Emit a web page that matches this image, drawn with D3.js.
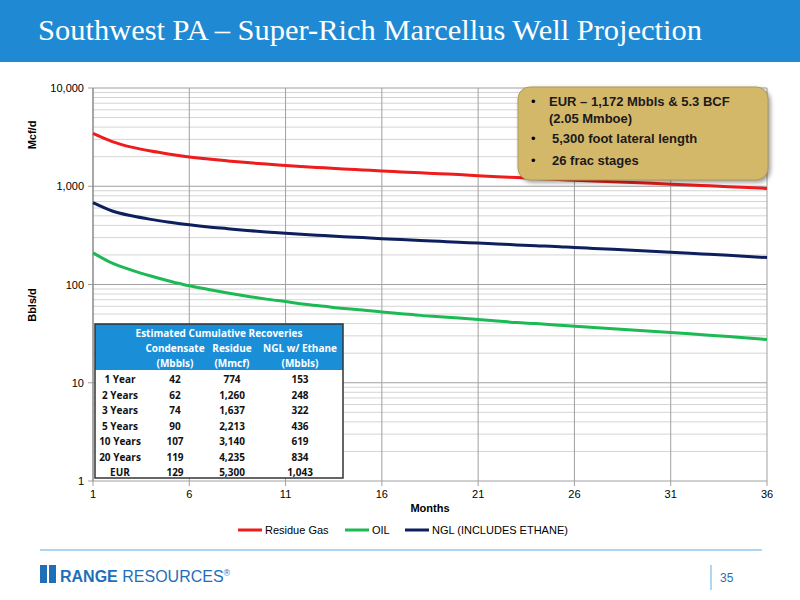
<!DOCTYPE html>
<html><head><meta charset="utf-8">
<script src="https://cdn.jsdelivr.net/npm/d3@7"></script>
<style>body{margin:0;background:#fff}svg{display:block}</style></head>
<body><svg id="c" width="800" height="600"></svg>
<script>
const months = d3.range(1,37);
const gas = [3450,2850,2500,2280,2120,1990,1890,1810,1740,1680,1630,1580,1540,1500,1465,1430,1400,1370,1340,1315,1280,1250,1225,1200,1175,1150,1130,1110,1090,1070,1050,1030,1010,990,970,950];
const ngl = [680,560,500,460,430,405,385,370,355,343,333,323,315,307,300,293,287,281,275,269,264,258,253,248,244,238,233,228,223,218,213,208,203,198,193,188];
const oil = [210,165,140,122,108,97,89,82,76,71,67,63,60,57,55,52.5,50.5,48.5,47,45.5,44,42.5,41,40,38.8,37.5,36.5,35.5,34.5,33.5,32.5,31.5,30.5,29.5,28.5,27.5];
const xTicks = [1,6,11,16,21,26,31,36];
const yTicks = [1,10,100,1000,10000];
const seriesNames = ["Residue Gas","OIL","NGL (INCLUDES ETHANE)"];
const seriesColors = ["#ee1c1c","#1db954","#0d1f5c"];
const tableHead = ["Condensate (Mbbls)","Residue (Mmcf)","NGL w/ Ethane (Mbbls)"];
const tableRows = [["1 Year","42","774","153"],["2 Years","62","1,260","248"],["3 Years","74","1,637","322"],["5 Years","90","2,213","436"],["10 Years","107","3,140","619"],["20 Years","119","4,235","834"],["EUR","129","5,300","1,043"]];
const bullets = ["EUR – 1,172 Mbbls & 5.3 BCF","(2.05 Mmboe)","5,300 foot lateral length","26 frac stages"];

const svg = d3.select("#c");
svg.append("rect").attr("width",800).attr("height",62).attr("fill","#1f8ad3");
svg.append("text").attr("x",38).attr("y",40).attr("fill","#fff").attr("font-family","Liberation Serif").attr("font-size",29).attr("textLength",664).attr("lengthAdjust","spacingAndGlyphs").text("Southwest PA – Super-Rich Marcellus Well Projection");

const x = d3.scaleLinear().domain([1,36]).range([93,767]);
const y = d3.scaleLog().domain([1,10000]).range([481,88]);
const g = svg.append("g");
const minor=[];for(let e=0;e<4;e++)for(let m=2;m<=9;m++)minor.push(m*Math.pow(10,e));
g.selectAll(".mn").data(minor).join("line").attr("x1",93).attr("x2",767).attr("y1",d=>y(d)).attr("y2",d=>y(d)).attr("stroke","#d4d4d4").attr("stroke-width",1);
g.selectAll(".mj").data(yTicks).join("line").attr("x1",88).attr("x2",767).attr("y1",d=>y(d)).attr("y2",d=>y(d)).attr("stroke","#a0a0a0");
g.selectAll(".vx").data(xTicks).join("line").attr("x1",d=>x(d)).attr("x2",d=>x(d)).attr("y1",88).attr("y2",486).attr("stroke","#a0a0a0");
g.append("line").attr("x1",93).attr("x2",93).attr("y1",88).attr("y2",481).attr("stroke","#808080");
g.selectAll(".yl").data(yTicks).join("text").attr("x",84).attr("y",d=>y(d)+4).attr("text-anchor","end").attr("font-family","Liberation Sans").attr("font-size",11).text(d3.format(","));
g.selectAll(".xl").data(xTicks).join("text").attr("x",d=>x(d)).attr("y",498).attr("text-anchor","middle").attr("font-family","Liberation Sans").attr("font-size",11).text(d=>d);
g.append("text").attr("x",x(18.5)).attr("y",512).attr("text-anchor","middle").attr("font-family","Liberation Sans").attr("font-size",11).attr("font-weight","bold").text("Months");
g.append("text").attr("transform","translate(36,135) rotate(-90)").attr("text-anchor","middle").attr("font-family","Liberation Sans").attr("font-size",11).attr("font-weight","bold").text("Mcf/d");
g.append("text").attr("transform","translate(36,305) rotate(-90)").attr("text-anchor","middle").attr("font-family","Liberation Sans").attr("font-size",11).attr("font-weight","bold").text("Bbls/d");

const line = d3.line().x((d,i)=>x(months[i])).y(d=>y(d)).curve(d3.curveMonotoneX);
[gas,oil,ngl].forEach((s,i)=>g.append("path").attr("d",line(s)).attr("fill","none").attr("stroke",seriesColors[i]).attr("stroke-width",3));

const lx=[238,345,405];
seriesNames.forEach((n,i)=>{g.append("line").attr("x1",lx[i]).attr("x2",lx[i]+24).attr("y1",530).attr("y2",530).attr("stroke",seriesColors[i]).attr("stroke-width",3);
g.append("text").attr("x",lx[i]+27).attr("y",534).attr("font-family","Liberation Sans").attr("font-size",11).text(n);});

svg.append("rect").attr("x",518).attr("y",87).attr("width",250).attr("height",93).attr("rx",12).attr("fill","#d4b86a").attr("stroke","#b09a55").style("filter","drop-shadow(2px 2px 2px rgba(0,0,0,0.4))");
const bt=[[531,106,true],[549,123,false],[531,143,true],[531,165,true]];
bullets.forEach((b,i)=>{const [bx,by,dot]=bt[i];
 if(dot) svg.append("text").attr("x",bx).attr("y",by).attr("font-family","Liberation Sans").attr("font-size",13).text("•");
 svg.append("text").attr("x",dot?(i==0?549:552):bx).attr("y",by).attr("font-family","Liberation Sans").attr("font-weight","bold").attr("font-size",13).attr("fill","#1a1a1a").text(b);});

const tx=95,ty=324,tw=248;const colX=[120,175,232,300];
svg.append("rect").attr("x",tx).attr("y",ty).attr("width",tw).attr("height",46).attr("fill","#1a8fd8");
svg.append("rect").attr("x",tx).attr("y",ty+46).attr("width",tw).attr("height",108).attr("fill","#fff");
svg.append("rect").attr("x",tx).attr("y",ty).attr("width",tw).attr("height",154).attr("fill","none").attr("stroke","#333").attr("stroke-width",1.5);
const tf="Open Sans";
svg.append("text").attr("x",tx+tw/2).attr("y",ty+13).attr("text-anchor","middle").attr("fill","#fff").attr("font-family",tf).attr("font-weight","bold").attr("font-size",10).text("Estimated Cumulative Recoveries");
tableHead.forEach((h,i)=>{const p=h.lastIndexOf(" (");
 svg.append("text").attr("x",colX[i+1]).attr("y",ty+28).attr("text-anchor","middle").attr("fill","#fff").attr("font-family",tf).attr("font-weight","bold").attr("font-size",10).text(h.slice(0,p));
 svg.append("text").attr("x",colX[i+1]).attr("y",ty+43).attr("text-anchor","middle").attr("fill","#fff").attr("font-family",tf).attr("font-weight","bold").attr("font-size",10).text(h.slice(p+1));});
tableRows.forEach((r,j)=>r.forEach((c,i)=>svg.append("text").attr("x",colX[i]).attr("y",ty+59+j*15.5).attr("text-anchor","middle").attr("font-family",tf).attr("font-weight","bold").attr("font-size",10).attr("fill","#111").text(c)));

svg.append("line").attr("x1",40).attr("x2",762).attr("y1",550).attr("y2",550).attr("stroke","#5aaee6").attr("stroke-width",1.2);
svg.append("rect").attr("x",40).attr("y",565).attr("width",7).attr("height",18).attr("fill","#1f6fb8");
svg.append("rect").attr("x",49).attr("y",565).attr("width",7).attr("height",18).attr("fill","#1f6fb8");
svg.append("text").attr("x",60).attr("y",582).attr("font-family","Liberation Sans").attr("font-size",16).attr("fill","#1f6fb8").html('<tspan font-weight="bold">RANGE</tspan> RESOURCES<tspan font-size="9" dy="-6">®</tspan>');
svg.append("line").attr("x1",711).attr("x2",711).attr("y1",565).attr("y2",590).attr("stroke","#5aaee6");
svg.append("text").attr("x",720).attr("y",582).attr("font-family","Liberation Sans Narrow, Liberation Sans").attr("font-size",12).attr("fill","#1f6fb8").text("35");
</script></body></html>
